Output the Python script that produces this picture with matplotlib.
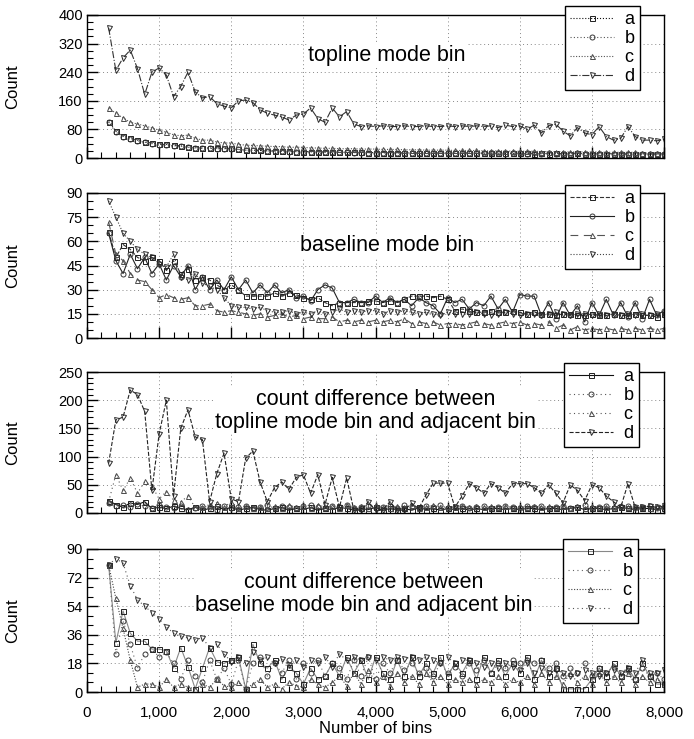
import matplotlib

matplotlib.use("Agg")

import numpy as np
from matplotlib import pyplot as plt
from matplotlib.ticker import AutoMinorLocator, FuncFormatter, MultipleLocator

plt.rcParams["font.family"] = ["Liberation Sans", "DejaVu Sans"]

# number of bins (x axis), one point per 100 bins
bins = np.arange(300, 8001, 100)
series_names = ["a", "b", "c", "d"]

# panel 1: topline mode bin
top_a = [102, 75, 62, 55, 50, 45, 42, 38, 38, 36,
         34, 31, 29, 28, 28, 28, 27, 27, 24, 22,
         22, 21, 20, 20, 19, 19, 18, 18, 18, 17,
         17, 17, 16, 16, 16, 16, 15, 15, 15, 15,
         14, 15, 14, 14, 15, 14, 14, 14, 13, 14,
         14, 13, 14, 13, 13, 14, 13, 13, 13, 12,
         13, 12, 13, 12, 12, 13, 12, 12, 12, 12,
         12, 12, 11, 12, 12, 11, 12, 12]
top_b = [100, 72, 60, 52, 48, 44, 40, 36, 36, 34,
         33, 30, 28, 27, 27, 26, 26, 25, 24, 22,
         21, 21, 20, 19, 19, 18, 18, 17, 17, 17,
         16, 16, 16, 16, 15, 15, 15, 15, 14, 15,
         14, 14, 14, 14, 13, 14, 14, 13, 14, 13,
         13, 14, 13, 13, 13, 12, 13, 13, 12, 13,
         12, 13, 12, 12, 12, 13, 12, 11, 12, 12,
         12, 11, 12, 11, 12, 11, 11, 12]
top_c = [140, 125, 112, 100, 95, 90, 84, 78, 72, 65,
         62, 64, 55, 50, 50, 45, 42, 42, 38, 36,
         35, 34, 33, 32, 32, 30, 30, 30, 28, 28,
         27, 27, 26, 26, 26, 25, 25, 25, 24, 24,
         24, 23, 23, 23, 22, 22, 22, 22, 21, 21,
         21, 21, 20, 20, 20, 20, 19, 19, 19, 19,
         18, 18, 18, 18, 17, 17, 17, 17, 17, 16,
         16, 16, 16, 16, 15, 15, 15, 15]
top_d = [364, 245, 280, 302, 250, 178, 240, 252, 232, 172,
         200, 240, 185, 168, 172, 152, 145, 140, 160, 162,
         155, 135, 125, 120, 115, 106, 120, 123, 140, 110,
         100, 140, 115, 130, 95, 88, 90, 88, 90, 88,
         88, 90, 88, 88, 90, 88, 88, 90, 88, 90,
         88, 90, 88, 90, 85, 92, 88, 90, 80, 92,
         70, 90, 95, 75, 62, 85, 70, 65, 88, 60,
         50, 55, 88, 60, 50, 50, 48, 52]

# panel 2: baseline mode bin
base_a = [66, 50, 58, 55, 50, 48, 50, 48, 42, 48,
          40, 43, 36, 38, 36, 33, 30, 33, 30, 26,
          26, 26, 26, 28, 26, 28, 27, 25, 24, 25,
          22, 20, 22, 22, 22, 22, 23, 23, 22, 23,
          22, 24, 26, 26, 26, 25, 26, 24, 17, 18,
          17, 16, 16, 17, 16, 16, 17, 16, 15, 16,
          15, 15, 14, 15, 15, 14, 14, 15, 14, 14,
          15, 14, 14, 15, 14, 14, 13, 15]
base_b = [65, 48, 40, 52, 43, 50, 40, 46, 36, 45,
          38, 45, 30, 38, 30, 36, 30, 38, 30, 36,
          28, 33, 28, 33, 28, 30, 25, 26, 23, 30,
          33, 31, 22, 22, 24, 22, 22, 26, 22, 25,
          22, 24, 20, 25, 22, 20, 15, 25, 22, 24,
          18, 22, 20, 26, 18, 24, 16, 27, 26, 26,
          14, 22, 12, 22, 14, 20, 10, 22, 14, 24,
          14, 22, 13, 22, 12, 24, 14, 17]
base_c = [72, 52, 48, 40, 36, 35, 30, 25, 27, 25,
          24, 25, 20, 20, 21, 17, 16, 17, 16, 15,
          14, 15, 13, 14, 15, 13, 14, 12, 13, 12,
          12, 13, 10, 11, 10, 11, 10, 11, 10, 11,
          10, 12, 9, 10, 9, 10, 8, 9, 9, 8,
          9, 10, 9, 8, 9, 10, 9, 10, 8, 9,
          8, 10, 6, 8, 5, 7, 5, 6, 5, 6,
          5, 6, 5, 6, 5, 6, 5, 6]
base_d = [85, 75, 65, 60, 55, 52, 50, 46, 44, 52,
          38, 36, 40, 34, 32, 30, 25, 20, 19, 19,
          18, 19, 17, 16, 16, 17, 15, 16, 15, 17,
          15, 16, 18, 16, 17, 16, 17, 17, 15, 17,
          16, 17, 16, 15, 16, 15, 14, 16, 15, 15,
          15, 16, 15, 14, 15, 16, 15, 14, 15, 15,
          14, 15, 16, 15, 14, 15, 15, 14, 15, 14,
          15, 14, 15, 14, 15, 14, 15, 14]

# panel 3: count difference, topline mode bin vs adjacent bin
ctop_a = [22, 15, 10, 18, 15, 20, 8, 10, 8, 12,
          8, 6, 10, 5, 8, 12, 6, 10, 5, 8,
          10, 6, 5, 8, 10, 5, 8, 6, 10, 5,
          8, 6, 10, 8, 5, 8, 6, 10, 5, 8,
          6, 8, 5, 10, 6, 8, 5, 8, 6, 8,
          5, 8, 6, 8, 8, 6, 8, 6, 8, 8,
          6, 8, 8, 6, 8, 10, 6, 8, 8, 6,
          8, 10, 8, 6, 8, 8, 6, 8]
ctop_b = [18, 12, 15, 10, 16, 12, 8, 14, 10, 8,
          12, 6, 8, 12, 10, 6, 12, 8, 10, 12,
          8, 10, 14, 8, 12, 10, 8, 12, 14, 10,
          8, 12, 10, 14, 8, 10, 12, 8, 10, 12,
          8, 14, 10, 8, 12, 10, 14, 8, 10, 12,
          8, 10, 12, 8, 10, 12, 10, 8, 12, 10,
          12, 8, 10, 12, 8, 10, 14, 8, 10, 12,
          8, 10, 12, 8, 10, 12, 8, 10]
ctop_c = [20, 68, 40, 62, 35, 56, 48, 25, 38, 23,
          20, 30, 10, 10, 15, 18, 10, 20, 8, 12,
          8, 10, 8, 12, 8, 14, 10, 12, 8, 15,
          10, 12, 8, 15, 10, 12, 8, 15, 10, 8,
          12, 10, 14, 8, 10, 14, 10, 12, 10, 12,
          10, 12, 10, 12, 10, 12, 10, 12, 10, 12,
          10, 12, 10, 12, 8, 12, 8, 12, 10, 10,
          12, 14, 10, 12, 10, 8, 12, 12]
ctop_d = [88, 165, 170, 218, 210, 180, 40, 140, 200, 30,
          150, 183, 135, 130, 20, 70, 106, 25, 20, 97,
          110, 55, 20, 45, 55, 42, 63, 68, 35, 68,
          15, 63, 10, 62, 5, 5, 20, 5, 5, 20,
          5, 5, 17, 8, 32, 53, 53, 53, 10, 30,
          52, 45, 35, 52, 45, 35, 52, 52, 52, 45,
          35, 50, 35, 18, 50, 40, 22, 50, 45, 30,
          20, 10, 52, 10, 10, 12, 10, 12]

# panel 4: count difference, baseline mode bin vs adjacent bin
cbase_a = [80, 31, 51, 37, 32, 32, 27, 27, 26, 15,
           28, 16, 2, 15, 28, 19, 18, 20, 22, 2,
           30, 18, 15, 20, 8, 16, 12, 5, 15, 8,
           10, 18, 10, 22, 12, 20, 8, 22, 12, 8,
           20, 10, 22, 10, 18, 12, 22, 10, 18, 12,
           20, 8, 22, 12, 20, 10, 18, 12, 22, 8,
           20, 10, 15, 2, 2, 2, 2, 8, 15, 10,
           18, 10, 15, 8, 18, 10, 5, 5]
cbase_b = [80, 24, 45, 30, 15, 24, 27, 22, 25, 18,
           8, 20, 10, 6, 20, 8, 15, 5, 20, 2,
           18, 22, 10, 18, 12, 20, 8, 18, 12, 20,
           10, 18, 15, 8, 20, 10, 22, 8, 18, 12,
           20, 14, 18, 12, 15, 10, 18, 12, 16, 10,
           18, 14, 20, 12, 18, 15, 20, 18, 20, 18,
           20, 15, 18, 10, 15, 12, 18, 10, 15, 12,
           16, 10, 14, 8, 15, 10, 12, 8]
cbase_c = [80, 59, 40, 20, 3, 5, 5, 3, 8, 3,
           5, 3, 2, 5, 3, 8, 4, 3, 6, 2,
           5, 8, 3, 5, 2, 6, 4, 3, 8, 5,
           3, 6, 10, 4, 12, 5, 14, 6, 10, 4,
           12, 6, 10, 5, 12, 6, 10, 5, 8, 6,
           8, 5, 8, 6, 10, 5, 8, 6, 10, 5,
           12, 6, 10, 5, 12, 6, 10, 5, 12, 6,
           10, 6, 12, 5, 10, 6, 8, 5]
cbase_d = [80, 84, 81, 67, 58, 54, 50, 46, 41, 37,
           35, 34, 33, 34, 28, 30, 24, 19, 22, 18,
           25, 20, 22, 18, 21, 17, 20, 16, 20, 18,
           22, 16, 24, 20, 22, 20, 22, 20, 22, 20,
           22, 21, 22, 20, 22, 20, 18, 22, 18, 20,
           20, 18, 16, 18, 15, 18, 16, 14, 18, 12,
           15, 12, 14, 12, 10, 12, 14, 12, 10, 12,
           14, 12, 15, 12, 20, 12, 12, 14]

titles = [
    "topline mode bin",
    "baseline mode bin",
    "count difference between\ntopline mode bin and adjacent bin",
    "count difference between\nbaseline mode bin and adjacent bin",
]
y_ranges = [(400, 80), (90, 15), (250, 50), (90, 18)]

W, H = 694, 739
LEFT, RIGHT = 87, 664
panel_px = [(15, 158), (193, 338), (372, 513), (549, 692)]
legend_px = [(565, 6), (565, 185), (564, 363), (563, 539)]
title_pos = [(0.52, 0.72), (0.52, 0.635), (0.50, 0.725), (0.48, 0.685)]
minor_n = [4, 3, 5, 3]

markers = ["s", "o", "^", "v"]
colors = ["#1e1e1e", "#3a3a3a", "#4a4a4a", "#2a2a2a"]
line_styles = [
    [":", (0, (1, 2)), (0, (1, 1.5)), "-."],
    ["--", "-", (0, (7, 5)), ":"],
    ["-", (0, (1, 3)), (0, (1, 3)), "--"],
    ["-", (0, (1, 3)), (0, (1, 1.5)), (0, (1, 3))],
]
line_colors = [
    ["#111111", "#555555", "#555555", "#333333"],
    ["#333333", "#222222", "#555555", "#444444"],
    ["#111111", "#555555", "#555555", "#222222"],
    ["#888888", "#666666", "#444444", "#555555"],
]

panels = [
    [top_a, top_b, top_c, top_d],
    [base_a, base_b, base_c, base_d],
    [ctop_a, ctop_b, ctop_c, ctop_d],
    [cbase_a, cbase_b, cbase_c, cbase_d],
]

fig = plt.figure(figsize=(W / 100, H / 100), dpi=100)

for i, data in enumerate(panels):
    top, bottom = panel_px[i]
    ax = fig.add_axes([LEFT / W, 1 - bottom / H, (RIGHT - LEFT) / W, (bottom - top) / H])
    for j, values in enumerate(data):
        ax.plot(bins, values, linestyle=line_styles[i][j], color=line_colors[i][j],
                linewidth=0.8, marker=markers[j], markersize=3.6, markerfacecolor="none",
                markeredgecolor=colors[j], markeredgewidth=0.7, label=series_names[j])

    ymax, ystep = y_ranges[i]
    ax.set_xlim(0, 8000)
    ax.set_ylim(0, ymax)
    ax.xaxis.set_major_locator(MultipleLocator(1000))
    ax.xaxis.set_minor_locator(MultipleLocator(200))
    ax.yaxis.set_major_locator(MultipleLocator(ystep))
    ax.yaxis.set_minor_locator(AutoMinorLocator(minor_n[i]))
    ax.tick_params(which="major", direction="in", length=8, width=1, labelsize=10.5, pad=3)
    ax.tick_params(which="minor", direction="in", length=4, width=0.8)
    ax.tick_params(axis="x", labelsize=11, pad=10)
    ax.set_axisbelow(True)
    ax.grid(True, which="major", linestyle=(0, (1, 3)), color="#888888", linewidth=0.7)
    for spine in ax.spines.values():
        spine.set_linewidth(1.0)
        spine.set_color("black")

    ax.set_ylabel("Count", fontsize=12)
    ax.yaxis.set_label_coords(-0.116, 0.5)

    if i < 3:
        ax.tick_params(axis="x", labelbottom=False)
    else:
        ax.xaxis.set_major_formatter(FuncFormatter(lambda v, p: f"{int(v):,}"))
        ax.set_xlabel("Number of bins", fontsize=12, labelpad=1)

    tx, ty = title_pos[i]
    ax.text(tx, ty, titles[i], transform=ax.transAxes, ha="center", va="center",
            fontsize=15.5, linespacing=1.1, zorder=2.5,
            bbox=dict(facecolor="white", edgecolor="none", pad=1))

    lx, ly = legend_px[i]
    leg = ax.legend(loc="upper left", bbox_to_anchor=(lx / W, 1 - ly / H),
                    bbox_transform=fig.transFigure, fontsize=13, frameon=True,
                    fancybox=False, edgecolor="black", framealpha=1,
                    borderpad=0.3, labelspacing=0.1, handlelength=2.4,
                    handletextpad=0.6, borderaxespad=0)
    leg.get_frame().set_linewidth(1.0)
    leg.set_zorder(5)

fig.savefig("out.png", dpi=100)
